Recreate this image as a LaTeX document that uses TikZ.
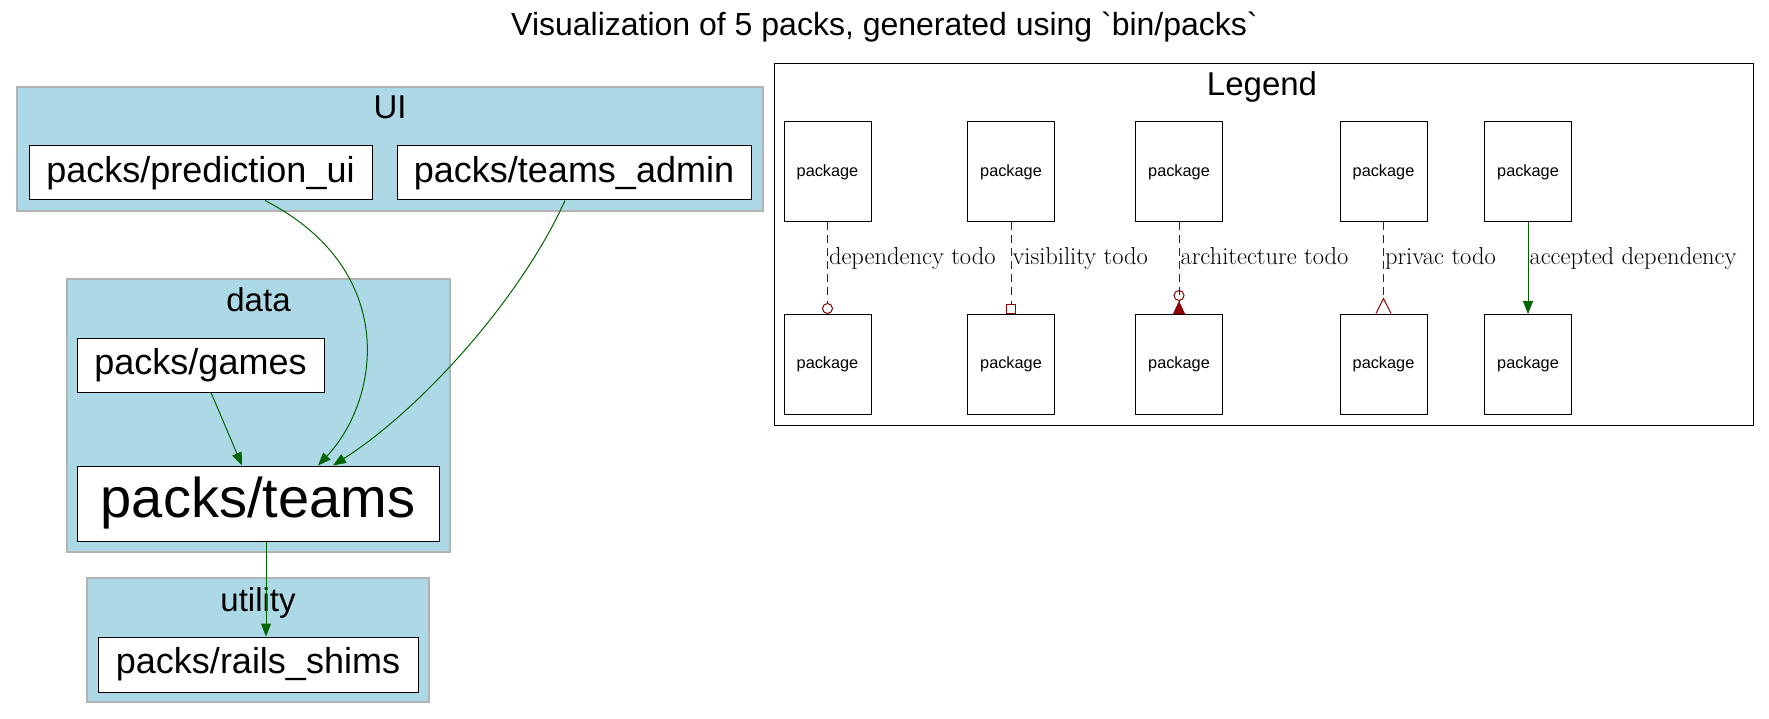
\documentclass[tikz,border=0pt]{standalone}
\usepackage{fontspec}
\newfontfamily\arialfont{Liberation Sans}
\usepackage{tikz}
\usetikzlibrary{arrows.meta}

\definecolor{lightblue}{RGB}{173,216,230}
\definecolor{darkgreen}{RGB}{0,100,0}
\definecolor{darkred}{RGB}{139,0,0}
\definecolor{clustergray}{RGB}{178,178,178}
\newcommand\pxsize[1]{\fontsize{#1}{#1}\selectfont}

\begin{document}
\begin{tikzpicture}[x=1pt,y=-1pt,
    pack/.style={draw, fill=white, line width=1pt, inner sep=0pt, font=\arialfont\pxsize{36}},
    pkg/.style={draw, fill=white, line width=1pt, inner sep=0pt, minimum width=87pt, minimum height=100pt, font=\arialfont\pxsize{16.3}},
    cluster/.style={fill=lightblue, draw=clustergray, line width=1.2pt},
    grouplabel/.style={anchor=base, inner sep=0pt, font=\arialfont\pxsize{33}},
    dep/.style={line width=1pt, darkgreen, -{Triangle[length=13pt,width=10pt]}},
    todo/.style={line width=1pt, darkred, dash pattern=on 7.5pt off 5.5pt},
    elabel/.style={anchor=base west, inner sep=1pt, text=black, font=\pxsize{24.5}, yshift=4pt}]
    \useasboundingbox (0,0) rectangle (1769,719);

    % title
    \node[anchor=base, inner sep=0pt, font=\arialfont\pxsize{32}] (title) at (884.5,36) {Visualization of 5 packs, generated using `bin/packs`};

    % UI
    \draw[cluster] (17,87) rectangle (763,211);
    \node[grouplabel] (uilabel) at (390,119) {UI};
    \node[pack, minimum width=343pt, minimum height=54pt] (pui) at (200.5,173) {packs/prediction\_ui};
    \node[pack, minimum width=354pt, minimum height=54pt] (tadmin) at (574,173) {packs/teams\_admin};

    % data
    \draw[cluster] (67,279) rectangle (450,552);
    \node[grouplabel] (datalabel) at (258.5,311) {data};
    \node[pack, minimum width=247pt, minimum height=54pt] (games) at (200.5,365) {packs/games};
    \node[pack, minimum width=362pt, minimum height=75pt, font=\arialfont\pxsize{56}] (teams) at (258,503.5) {packs/teams};

    % utility
    \draw[cluster] (87,578) rectangle (429,702);
    \node[grouplabel] (utillabel) at (258,611) {utility};
    \node[pack, minimum width=320pt, minimum height=55pt] (shims) at (258,664.5) {packs/rails\_shims};

    % dependencies
    \draw[dep] ([xshift=10.5pt]games.south) -- ([xshift=-16pt]teams.north);
    \draw[dep] ([xshift=64.5pt]pui.south) .. controls (400,270) and (380,400) .. ([xshift=60pt]teams.north);
    \draw[dep] ([xshift=-9pt]tadmin.south) .. controls (520,300) and (420,410) .. ([xshift=75pt]teams.north);
    \draw[dep] ([xshift=8pt]teams.south) -- ([xshift=8pt]shims.north);

    % legend
    \draw[line width=1pt, fill=white] (774,64) rectangle (1753,425);
    \node[grouplabel] (legendlabel) at (1262,96) {Legend};

    \node[pkg] (top1) at (827.5,172) {package};
    \node[pkg] (bot1) at (827.5,364.5) {package};
    \node[pkg] (top2) at (1011,172) {package};
    \node[pkg] (bot2) at (1011,364.5) {package};
    \node[pkg] (top3) at (1179,172) {package};
    \node[pkg] (bot3) at (1179,364.5) {package};
    \node[pkg] (top4) at (1383.5,172) {package};
    \node[pkg] (bot4) at (1383.5,364.5) {package};
    \node[pkg] (top5) at (1528,172) {package};
    \node[pkg] (bot5) at (1528,364.5) {package};

    \draw[todo, -{Circle[open,length=11pt,width=11pt]}] (top1) -- (bot1) node[elabel, pos=0.5] {dependency todo};
    \draw[todo, -{Square[open,length=10pt,width=10pt]}] (top2) -- (bot2) node[elabel, pos=0.5] {visibility todo};
    \draw[todo, -{Circle[open,length=11pt,width=11pt] Triangle[reversed,length=13pt,width=12pt]}] (top3) -- (bot3) node[elabel, pos=0.5] {architecture todo};
    \draw[todo, -{Straight Barb[reversed,length=15pt,width=15pt]}] (top4) -- (bot4) node[elabel, pos=0.5] {privac todo};
    \draw[dep] (top5) -- (bot5) node[elabel, pos=0.5] {accepted dependency};
\end{tikzpicture}
\end{document}
